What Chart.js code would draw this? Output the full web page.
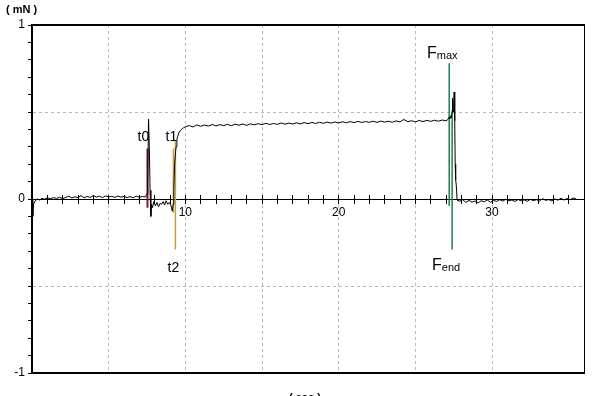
<!DOCTYPE html>
<html>
<head>
<meta charset="utf-8">
<script src="https://cdn.jsdelivr.net/npm/chart.js@4.4.0/dist/chart.umd.min.js"></script>
<style>
  html, body { margin: 0; padding: 0; background: #fff; overflow: hidden; }
  #wrap { position: relative; width: 596px; height: 396px; overflow: hidden; }
  .unit { position: absolute; font-family: 'Liberation Sans', sans-serif; color: #000; white-space: pre; }
  #unit-y { left: 6px; top: 3px; font-size: 11px; font-weight: bold; }
  #unit-x { left: 289px; top: 391px; font-size: 11px; font-weight: bold; }
</style>
</head>
<body>
<div id="wrap">
  <canvas id="chart" width="596" height="396"></canvas>
  <div class="unit" id="unit-y">( mN )</div>
  <div class="unit" id="unit-x">( sec )</div>
</div>
<script>
// Force trace (time in s, force in mN)
const traceTime = [
  // baseline before t0
  0, 0.05, 0.1, 0.2, 0.35, 0.5, 0.65, 0.8, 1.0, 1.2,
  1.4, 1.6, 1.8, 2.0, 2.2, 2.4, 2.6, 2.8, 3.0, 3.2,
  3.4, 3.6, 3.8, 4.0, 4.2, 4.4, 4.6, 4.8, 5.0, 5.2,
  5.4, 5.6, 5.8, 6.0, 6.2, 6.4, 6.6, 6.8, 7.0, 7.2, 7.4,
  // t0 spike and dip
  7.5, 7.55, 7.6, 7.65, 7.7, 7.75, 7.8, 7.85, 7.95, 8.05,
  8.15, 8.25, 8.35, 8.45, 8.55, 8.65, 8.75, 8.85, 8.95, 9.05,
  9.1, 9.15, 9.2,
  // rise after t1
  9.25, 9.3, 9.35, 9.4, 9.45, 9.5, 9.6, 9.7, 9.8, 9.9, 10.0,
  // plateau
  10.25, 10.5, 10.75, 11.0, 11.25, 11.5, 11.75, 12.0, 12.25, 12.5,
  12.75, 13.0, 13.25, 13.5, 13.75, 14.0, 14.25, 14.5, 14.75, 15.0,
  15.25, 15.5, 15.75, 16.0, 16.25, 16.5, 16.75, 17.0, 17.25, 17.5,
  17.75, 18.0, 18.25, 18.5, 18.75, 19.0, 19.25, 19.5, 19.75, 20.0,
  20.25, 20.5, 20.75, 21.0, 21.25, 21.5, 21.75, 22.0, 22.25, 22.5,
  22.75, 23.0, 23.25, 23.5, 23.75, 24.0, 24.25, 24.5, 24.75, 25.0,
  25.25, 25.5, 25.75, 26.0, 26.25, 26.5, 26.75, 27.0,
  // Fmax peak and release
  27.1, 27.2, 27.25, 27.3, 27.35, 27.4, 27.43, 27.47, 27.5, 27.53,
  27.57, 27.6, 27.63, 27.67, 27.72, 27.77,
  // baseline after Fend
  27.9, 28.1, 28.3, 28.5, 28.7, 28.9, 29.1, 29.3, 29.5, 29.7,
  29.9, 30.1, 30.3, 30.5, 30.7, 30.9, 31.1, 31.3, 31.5, 31.7,
  31.9, 32.1, 32.3, 32.5, 32.7, 32.9, 33.1, 33.3, 33.5, 33.7,
  33.9, 34.1, 34.3, 34.5, 34.7, 34.9, 35.1, 35.3, 35.5
]
const traceForce = [
  0, -0.1, -0.03, -0.012, 0.0, -0.006, 0.004, -0.001, 0.006, 0.001,
  0.008, 0.003, 0.01, 0.002, 0.009, 0.016, 0.006, 0.013, 0.008, 0.019,
  0.007, 0.015, 0.009, 0.02, 0.011, 0.016, 0.008, 0.018, 0.012, 0.015,
  0.009, 0.017, 0.011, 0.015, 0.008, 0.014, 0.007, 0.016, 0.01, 0.014, 0.012,

  0.03, 0.12, 0.46, 0.3, 0.05, -0.1, -0.03, -0.05, -0.015, -0.04,
  -0.02, -0.045, -0.025, -0.03, -0.015, -0.035, -0.01, -0.03, -0.02, -0.035,
  -0.05, -0.07, -0.03,

  0.05, 0.2, 0.26, 0.3, 0.34, 0.36, 0.385, 0.395, 0.405, 0.41, 0.415,

  0.422, 0.414, 0.426, 0.418, 0.425, 0.419, 0.428, 0.42, 0.427, 0.422,
  0.429, 0.421, 0.43, 0.424, 0.431, 0.423, 0.432, 0.426, 0.433, 0.427,
  0.435, 0.428, 0.434, 0.429, 0.437, 0.43, 0.436, 0.431, 0.438, 0.432,
  0.439, 0.433, 0.44, 0.434, 0.441, 0.435, 0.442, 0.436, 0.443, 0.437,
  0.444, 0.438, 0.445, 0.439, 0.446, 0.44, 0.445, 0.441, 0.447, 0.44,
  0.448, 0.442, 0.447, 0.441, 0.449, 0.443, 0.457, 0.444, 0.45, 0.443,
  0.451, 0.445, 0.452, 0.446, 0.453, 0.447, 0.454, 0.449,

  0.455, 0.47, 0.462, 0.478, 0.466, 0.5, 0.58, 0.5, 0.52, 0.615,
  0.45, 0.2, 0.11, 0.08, 0.0, -0.01,

  -0.012, -0.004, -0.02, -0.008, -0.018, -0.011, -0.022, -0.01, -0.016, -0.006,
  -0.019, -0.008, -0.014, -0.004, -0.012, -0.002, -0.01, -0.006, -0.014, -0.003,
  -0.011, -0.005, -0.013, -0.002, -0.01, -0.004, -0.012, 0.002, -0.008, -0.003,
  -0.011, 0.0, -0.007, 0.004, -0.006, 0.003, -0.004, 0.006, 0.0
]

// Event markers
const markerNames = ['t0', 't1', 't2', 'Fmax', 'Fend']
const markerTimes = [7.53, 9.22, 9.35, 27.21, 27.4]
const markerLow = [-0.05, -0.08, -0.29, -0.04, -0.29]
const markerHigh = [0.29, 0.29, 0.34, 0.78, 0.51]
const markerSide = ['top', 'top', 'bottom', 'top', 'bottom']

// Axis labels
const xLabels = [10, 20, 30]
const yLabels = [-1, 0, 1]

// styles
const markerColors = ['#7f1730', '#c9a04a', '#c9a04a', '#1f7d52', '#1f7d52']
const markerWidths = [2, 1.5, 1.5, 1.5, 1.5]
const labelOffset = [[-4, -8], [-2, -8], [-2, 23], [-7, -5], [-6, 21]]
const grey = '#b9b9b9'
const fontFamily = 'Liberation Sans'
const clear = 'rgba(0,0,0,0)'

const points = []
for (let i = 0; i < Math.min(traceTime.length, traceForce.length); i++) {
    points.push({ x: traceTime[i], y: traceForce[i] })
}

const datasets = [{
    data: points,
    borderColor: '#000',
    borderWidth: 1,
    pointRadius: 0,
    tension: 0,
    xAxisID: 'x',
    yAxisID: 'y',
    order: 0
}]

markerNames.forEach((name, i) => {
    datasets.push({
        label: name,
        data: [{ x: markerTimes[i], y: markerLow[i] }, { x: markerTimes[i], y: markerHigh[i] }],
        borderColor: markerColors[i],
        borderWidth: markerWidths[i],
        pointRadius: 0,
        xAxisID: 'x',
        yAxisID: 'y',
        order: 1
    })
})

// Writes t0, t1, Fmax ... next to the marker lines
const markerLabels = {
    id: 'markerLabels',
    afterDatasetsDraw(chart) {
        const { ctx } = chart
        const xs = chart.scales.x
        const ys = chart.scales.y
        ctx.save()
        ctx.fillStyle = '#000'
        ctx.textBaseline = 'alphabetic'
        ctx.textAlign = 'left'
        markerNames.forEach((name, i) => {
            const px = xs.getPixelForValue(markerTimes[i]) + labelOffset[i][0]
            const edge = markerSide[i] === 'top' ? markerHigh[i] : markerLow[i]
            const py = ys.getPixelForValue(edge) + labelOffset[i][1]
            if (name.length > 2) {
                // big F with small subscript text
                const main = name[0]
                const sub = name.slice(1)
                ctx.font = `16px "${fontFamily}"`
                const w1 = ctx.measureText(main).width
                ctx.font = `11px "${fontFamily}"`
                const w2 = ctx.measureText(sub).width
                const left = px - (w1 + w2) / 2
                ctx.font = `16px "${fontFamily}"`
                ctx.fillText(main, left, py)
                ctx.font = `11px "${fontFamily}"`
                ctx.fillText(sub, left + w1, py + 1)
            } else {
                ctx.font = `14px "${fontFamily}"`
                const w = ctx.measureText(name).width
                ctx.fillText(name, px - w / 2, py)
            }
        })
        ctx.restore()
    }
}

const isOn = (v, list) => list.some(l => Math.abs(v - l) < 1e-6)

new Chart(document.querySelector('#chart'), {
    type: 'line',
    data: { datasets: datasets },
    plugins: [markerLabels],
    options: {
        responsive: false,
        animation: false,
        devicePixelRatio: 1,
        layout: { padding: { top: 25, right: 12, bottom: 23, left: 0 } },
        plugins: { legend: { display: false }, tooltip: { enabled: false } },
        scales: {
            x: {
                type: 'linear',
                axis: 'x',
                position: 'bottom',
                min: 0,
                max: 36,
                ticks: { display: false, stepSize: 5 },
                grid: {
                    drawTicks: false,
                    lineWidth: 1,
                    color: c => (c.tick && c.tick.value > 0 && c.tick.value < 36) ? grey : clear
                },
                border: { display: true, color: '#000', width: 2, dash: [3, 3] },
                afterFit: s => { s.height = 0 }
            },
            xTop: {
                type: 'linear',
                axis: 'x',
                position: 'top',
                min: 0,
                max: 36,
                ticks: { display: false },
                grid: { display: false },
                border: { display: true, color: '#000', width: 2 },
                afterFit: s => { s.height = 0 }
            },
            xMid: {
                type: 'linear',
                axis: 'x',
                position: { y: 0 },
                min: 0,
                max: 36,
                ticks: {
                    stepSize: 1,
                    autoSkip: false,
                    maxRotation: 0,
                    padding: 2,
                    color: '#000',
                    font: { family: fontFamily, size: 12 },
                    callback: v => isOn(v, xLabels) ? String(v) : ''
                },
                grid: { drawOnChartArea: false, drawTicks: true, tickLength: 4, color: '#000' },
                border: { display: true, color: '#000', width: 1 }
            },
            xMidUp: {
                type: 'linear',
                axis: 'x',
                position: { y: 0 },
                min: 0,
                max: 36,
                ticks: { stepSize: 1, autoSkip: false, display: false },
                grid: { drawOnChartArea: false, drawTicks: true, tickLength: -4, color: '#000' },
                border: { display: false }
            },
            y: {
                type: 'linear',
                axis: 'y',
                position: 'left',
                min: -1,
                max: 1,
                ticks: {
                    stepSize: 0.1,
                    autoSkip: false,
                    padding: 3,
                    color: '#000',
                    font: { family: fontFamily, size: 12 },
                    callback: v => isOn(v, yLabels) ? String(Math.round(v)) : ''
                },
                grid: {
                    drawTicks: true,
                    tickLength: 4,
                    tickColor: '#000',
                    color: c => (c.tick && isOn(Math.abs(c.tick.value), [0.5])) ? grey : clear
                },
                border: { display: true, color: '#000', width: 2, dash: [3, 3] },
                afterFit: s => { s.width = 32 }
            },
            yRight: {
                type: 'linear',
                axis: 'y',
                position: 'right',
                min: -1,
                max: 1,
                ticks: { display: false },
                grid: { display: false },
                border: { display: true, color: '#000', width: 1 },
                afterFit: s => { s.width = 0 }
            }
        }
    }
})
</script>
</body>
</html>
